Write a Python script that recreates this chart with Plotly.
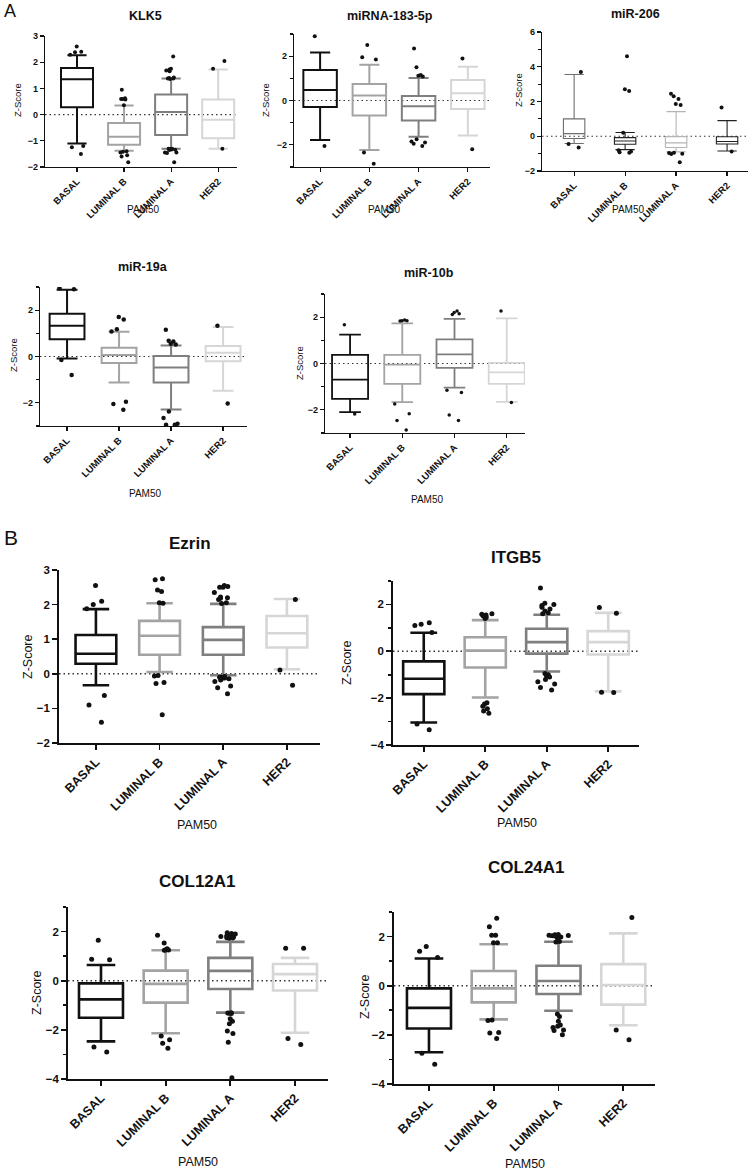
import plotly.graph_objects as go

W, H = 750, 1172
CATS = ["BASAL", "LUMINAL B", "LUMINAL A", "HER2"]
FONT = "Liberation Sans, Arial, sans-serif"

# ---------------- data (whisker hi, q3, median, q1, whisker lo, outliers) ----------------
klk5_hi  = [2.27, 0.35, 1.38, 1.72]
klk5_q3  = [1.78, -0.32, 0.77, 0.58]
klk5_med = [1.35, -0.85, 0.10, -0.20]
klk5_q1  = [0.28, -1.15, -0.78, -0.90]
klk5_lo  = [-1.10, -1.38, -1.30, -1.30]
klk5_out = [[2.60, 2.40, 2.38, 2.28, -1.20, -1.25, -1.50],
            [0.95, 0.62, 0.60, 0.60, 0.58, 0.36, -1.40, -1.42, -1.45, -1.55, -1.60, -1.82],
            [2.22, 1.75, 1.72, 1.68, 1.65, 1.42, 1.40, 1.38, 1.38, 1.36, -1.30, -1.30, -1.31,
             -1.32, -1.33, -1.34, -1.35, -1.45, -1.45, -1.47, -1.82],
            [2.05, 1.75, -1.30]]

mir183_hi  = [2.16, 1.61, 1.02, 1.52]
mir183_q3  = [1.38, 0.75, 0.20, 0.93]
mir183_med = [0.47, 0.23, -0.26, 0.33]
mir183_q1  = [-0.29, -0.68, -0.90, -0.38]
mir183_lo  = [-1.78, -2.23, -1.63, -1.58]
mir183_out = [[2.90, -2.05],
              [2.50, 1.95, 1.85, -2.35, -2.85],
              [2.35, 1.50, 1.15, 1.12, 1.08, -1.75, -1.85, -1.90, -1.95, -2.05],
              [1.90, -2.20]]

mir206_hi  = [3.55, 0.22, 1.42, 0.90]
mir206_q3  = [1.00, -0.08, -0.02, -0.03]
mir206_med = [0.15, -0.27, -0.38, -0.30]
mir206_q1  = [-0.13, -0.46, -0.65, -0.45]
mir206_lo  = [-0.42, -0.77, -0.90, -0.85]
mir206_out = [[3.70, -0.45, -0.65],
              [4.60, 2.70, 2.60, 0.20, -0.80, -0.88, -0.92, -0.95],
              [2.45, 2.30, 2.15, 1.85, 1.80, -0.95, -0.97, -1.00, -1.02, -1.50],
              [1.65, -0.88]]

mir19a_hi  = [2.88, 1.07, 0.48, 1.27]
mir19a_q3  = [1.84, 0.38, 0.02, 0.45]
mir19a_med = [1.33, 0.06, -0.48, 0.16]
mir19a_q1  = [0.74, -0.28, -1.12, -0.20]
mir19a_lo  = [-0.09, -1.12, -2.29, -1.48]
mir19a_out = [[2.95, 2.90, -0.15, -0.80],
              [1.70, 1.60, 1.18, 1.08, -1.95, -2.05, -2.30],
              [1.15, 0.68, 0.65, 0.55, 0.52, -2.37, -2.65, -2.90, -2.95, -2.95],
              [1.33, -2.03]]

mir10b_hi  = [1.25, 1.73, 1.93, 1.95]
mir10b_q3  = [0.37, 0.37, 1.04, 0.03]
mir10b_med = [-0.70, -0.05, 0.39, -0.38]
mir10b_q1  = [-1.53, -0.88, -0.19, -0.88]
mir10b_lo  = [-2.10, -1.67, -1.04, -1.66]
mir10b_out = [[1.67, -2.18],
              [1.88, 1.85, 1.85, 1.83, -1.75, -2.17, -2.46, -2.87],
              [2.27, 2.20, 2.15, 2.12, -1.15, -1.25, -2.22, -2.46],
              [2.27, -1.68]]

ezrin_hi  = [1.87, 2.04, 2.02, 2.16]
ezrin_q3  = [1.12, 1.53, 1.35, 1.67]
ezrin_med = [0.58, 1.10, 0.98, 1.17]
ezrin_q1  = [0.29, 0.55, 0.55, 0.76]
ezrin_lo  = [-0.33, 0.05, -0.04, 0.13]
ezrin_out = [[2.55, 2.10, 2.00, 1.88, -0.63, -0.90, -1.40],
             [2.75, 2.72, 2.42, 2.38, 2.05, 2.04, -0.05, -0.06, -0.25, -0.28, -1.18],
             [2.55, 2.52, 2.50, 2.50, 2.35, 2.22, 2.20, 2.18, 2.15, 2.05, 2.03, -0.08, -0.10,
              -0.10, -0.12, -0.12, -0.14, -0.18, -0.22, -0.35, -0.40, -0.58],
             [2.15, 0.11, -0.33]]

itgb5_hi  = [0.79, 1.33, 1.56, 1.64]
itgb5_q3  = [-0.43, 0.60, 0.96, 0.86]
itgb5_med = [-1.17, 0.03, 0.39, 0.39]
itgb5_q1  = [-1.83, -0.69, -0.10, -0.14]
itgb5_lo  = [-3.04, -1.97, -0.86, -1.71]
itgb5_out = [[1.22, 1.15, 1.10, 0.80, -3.10, -3.35],
             [1.60, 1.58, 1.55, 1.52, 1.50, 1.45, 1.40, -2.20, -2.25, -2.35, -2.45, -2.55, -2.65],
             [2.70, 2.05, 2.00, 1.95, 1.88, 1.80, 1.72, 1.65, 1.60, -0.95, -1.00, -1.05, -1.10,
              -1.20, -1.30, -1.40, -1.55, -1.65],
             [1.87, 1.62, -1.75, -1.76]]

col12_hi  = [0.64, 1.24, 1.58, 0.93]
col12_q3  = [-0.11, 0.41, 0.93, 0.68]
col12_med = [-0.76, -0.13, 0.40, 0.27]
col12_q1  = [-1.51, -0.89, -0.34, -0.40]
col12_lo  = [-2.47, -2.14, -1.30, -2.12]
col12_out = [[1.65, 0.87, 0.85, -2.70, -2.90],
             [1.85, 1.53, 1.30, 1.25, 1.25, 1.24, -2.25, -2.40, -2.55, -2.75],
             [1.95, 1.92, 1.90, 1.85, 1.82, 1.80, 1.78, 1.78, 1.76, 1.75, 1.74, 1.73, -1.30,
              -1.31, -1.32, -1.33, -1.55, -1.65, -1.75, -2.05, -2.15, -2.50, -3.95],
             [1.32, 1.32, -2.35, -2.60]]

col24_hi  = [1.11, 1.69, 1.79, 2.13]
col24_q3  = [-0.11, 0.60, 0.81, 0.88]
col24_med = [-0.90, -0.11, 0.19, 0.03]
col24_q1  = [-1.74, -0.68, -0.34, -0.77]
col24_lo  = [-2.71, -1.37, -1.02, -1.61]
col24_out = [[1.60, 1.40, 1.15, -2.75, -3.20],
             [2.75, 2.40, 2.05, 2.05, 1.75, 1.75, -1.40, -1.42, -1.90, -1.92, -2.15],
             [2.08, 2.07, 2.05, 2.05, 2.04, 2.03, 2.02, 1.98, 1.95, 1.80, 1.78, -1.15, -1.25,
              -1.45, -1.60, -1.65, -1.70, -1.80, -1.82, -2.00],
             [2.78, -1.80, -2.20]]

# ---------------- styles / layout ----------------
GREYS = ["#111111", "#a3a3a3", "#7f7f7f", "#d6d6d6"]
GREYS_206 = ["#6e6e6e", "#222222", "#b5b5b5", "#222222"]

PANELS = [
    dict(title="KLK5", stats=(klk5_hi, klk5_q3, klk5_med, klk5_q1, klk5_lo, klk5_out),
         px=(45, 237, 36, 167), yr=(-2, 3), dtick=1, minor=False, xr=(-0.68, 3.40),
         colors=GREYS, lw=2.0, ms=4, bw=0.68, ww=0.6, big=False,
         tpos=(145, 16), zpos=(17, 100), ppos=(143, 209)),
    dict(title="miRNA-183-5p", stats=(mir183_hi, mir183_q3, mir183_med, mir183_q1, mir183_lo, mir183_out),
         px=(294, 490, 34, 167), yr=(-3, 3), dtick=2, minor=True, xr=(-0.53, 3.45),
         colors=GREYS, lw=2.0, ms=4, bw=0.68, ww=0.6, big=False,
         tpos=(390, 16), zpos=(265, 100), ppos=(384, 209)),
    dict(title="miR-206", stats=(mir206_hi, mir206_q3, mir206_med, mir206_q1, mir206_lo, mir206_out),
         px=(542, 748, 32, 171), yr=(-2, 6), dtick=2, minor=True, xr=(-0.63, 3.41),
         colors=GREYS_206, lw=1.1, ms=4, bw=0.42, ww=0.9, big=False,
         tpos=(635, 14), zpos=(518, 90), ppos=(628, 209)),
    dict(title="miR-19a", stats=(mir19a_hi, mir19a_q3, mir19a_med, mir19a_q1, mir19a_lo, mir19a_out),
         px=(40, 247, 287, 426), yr=(-3, 3), dtick=2, minor=True, xr=(-0.52, 3.46),
         colors=GREYS, lw=2.0, ms=4.5, bw=0.67, ww=0.6, big=False,
         tpos=(143, 267), zpos=(13, 355), ppos=(145, 493)),
    dict(title="miR-10b", stats=(mir10b_hi, mir10b_q3, mir10b_med, mir10b_q1, mir10b_lo, mir10b_out),
         px=(325, 525, 294, 433), yr=(-3, 3), dtick=2, minor=True, xr=(-0.48, 3.35),
         colors=GREYS, lw=1.8, ms=3.5, bw=0.69, ww=0.6, big=False,
         tpos=(429, 273), zpos=(299, 363), ppos=(427, 499)),
    dict(title="Ezrin", stats=(ezrin_hi, ezrin_q3, ezrin_med, ezrin_q1, ezrin_lo, ezrin_out),
         px=(59, 320, 570, 743), yr=(-2, 3), dtick=1, minor=False, xr=(-0.58, 3.52),
         colors=GREYS, lw=2.6, ms=5, bw=0.64, ww=0.65, big=True,
         tpos=(190, 543), zpos=(28, 657), ppos=(197, 825)),
    dict(title="ITGB5", stats=(itgb5_hi, itgb5_q3, itgb5_med, itgb5_q1, itgb5_lo, itgb5_out),
         px=(393, 639, 581, 745), yr=(-4, 3), dtick=2, minor=True, xr=(-0.50, 3.50),
         colors=GREYS, lw=2.6, ms=5, bw=0.67, ww=0.65, big=True,
         tpos=(516, 557), zpos=(347, 663), ppos=(517, 823)),
    dict(title="COL12A1", stats=(col12_hi, col12_q3, col12_med, col12_q1, col12_lo, col12_out),
         px=(68, 328, 907, 1079), yr=(-4, 3), dtick=2, minor=True, xr=(-0.51, 3.51),
         colors=GREYS, lw=2.6, ms=5, bw=0.68, ww=0.65, big=True,
         tpos=(197, 881), zpos=(37, 993), ppos=(198, 1162)),
    dict(title="COL24A1", stats=(col24_hi, col24_q3, col24_med, col24_q1, col24_lo, col24_out),
         px=(394, 655, 912, 1084), yr=(-4, 3), dtick=2, minor=True, xr=(-0.54, 3.49),
         colors=GREYS, lw=2.6, ms=5, bw=0.68, ww=0.65, big=True,
         tpos=(526, 867), zpos=(365, 997), ppos=(525, 1164)),
]


def fx(px):
    return px / W


def fy(py):
    return 1 - py / H


fig = go.Figure()
layout = dict(template="none", width=W, height=H, autosize=False,
              margin=dict(l=0, r=0, t=0, b=0, pad=0, autoexpand=False),
              paper_bgcolor="white", plot_bgcolor="white", showlegend=False,
              boxmode="overlay", font=dict(family=FONT, color="#111"))
shapes = []
annotations = []

for i, p in enumerate(PANELS, start=1):
    xa = "x" if i == 1 else f"x{i}"
    ya = "y" if i == 1 else f"y{i}"
    xkey = "xaxis" if i == 1 else f"xaxis{i}"
    ykey = "yaxis" if i == 1 else f"yaxis{i}"
    L, R, T, B = p["px"]
    big = p["big"]
    axlw = 1.8 if big else 1.2
    tick_fs = 11.5 if big else 9
    cat_fs = 12.5 if big else 9.5
    hi, q3, med, q1, lo, out = p["stats"]

    for j, cat in enumerate(CATS):
        fig.add_trace(go.Box(
            x=[cat], q1=[q1[j]], median=[med[j]], q3=[q3[j]],
            lowerfence=[lo[j]], upperfence=[hi[j]],
            xaxis=xa, yaxis=ya, width=p["bw"], whiskerwidth=p["ww"],
            line=dict(color=p["colors"][j], width=p["lw"]),
            fillcolor="rgba(0,0,0,0)", boxpoints=False,
            hoverinfo="skip", showlegend=False))
        fig.add_trace(go.Box(
            x=[cat] * len(out[j]), y=out[j], xaxis=xa, yaxis=ya,
            boxpoints="all", jitter=0.9, pointpos=0, width=0.38, whiskerwidth=0,
            line=dict(color="rgba(0,0,0,0)", width=0), fillcolor="rgba(0,0,0,0)",
            marker=dict(color="#111111", size=p["ms"]),
            hoverinfo="skip", showlegend=False))

    layout[xkey] = dict(
        domain=[fx(L), fx(R)], anchor=ya, type="category", automargin=False,
        categoryorder="array", categoryarray=CATS, range=list(p["xr"]),
        showline=True, linecolor="#111", linewidth=axlw,
        ticks="outside", ticklen=4 if not big else 5, tickwidth=axlw, tickcolor="#111",
        tickangle=-45, tickfont=dict(family=FONT, size=cat_fs, color="#111", weight="bold"),
        showgrid=False, zeroline=False, fixedrange=True)
    yax = dict(
        domain=[fy(B), fy(T)], anchor=xa, range=list(p["yr"]), automargin=False,
        tickmode="linear", tick0=0, dtick=p["dtick"],
        showline=True, linecolor="#111", linewidth=axlw,
        ticks="outside", ticklen=4 if not big else 5, tickwidth=axlw, tickcolor="#111",
        tickfont=dict(family=FONT, size=tick_fs, color="#111", weight="bold"),
        showgrid=False, zeroline=False, fixedrange=True)
    if p["minor"]:
        yax["minor"] = dict(ticks="outside", dtick=1, tick0=0, ticklen=2.5 if not big else 3.5,
                            tickwidth=axlw, tickcolor="#111", showgrid=False)
    layout[ykey] = yax

    shapes.append(dict(type="line", xref=f"{xa} domain", yref=ya, x0=0, x1=1, y0=0, y1=0,
                       line=dict(color="#333", width=1.4 if big else 1.2, dash="1.5px,3px"),
                       layer="below"))

    annotations.append(dict(text=f"<b>{p['title']}</b>", x=fx(p["tpos"][0]), y=fy(p["tpos"][1]),
                            xref="paper", yref="paper", showarrow=False,
                            xanchor="center", yanchor="middle",
                            font=dict(family=FONT, size=17 if big else 12.5, color="#111")))
    annotations.append(dict(text="Z-Score", x=fx(p["zpos"][0]), y=fy(p["zpos"][1]),
                            xref="paper", yref="paper", showarrow=False, textangle=-90,
                            xanchor="center", yanchor="middle",
                            font=dict(family=FONT, size=12.5 if big else 9.5, color="#111")))
    annotations.append(dict(text="PAM50", x=fx(p["ppos"][0]), y=fy(p["ppos"][1]),
                            xref="paper", yref="paper", showarrow=False,
                            xanchor="center", yanchor="middle",
                            font=dict(family=FONT, size=12.5 if big else 10, color="#111")))

annotations.append(dict(text="A", x=fx(2), y=fy(11), xref="paper", yref="paper", showarrow=False,
                        xanchor="left", yanchor="middle",
                        font=dict(family=FONT, size=18, color="#111")))
annotations.append(dict(text="B", x=fx(2), y=fy(537), xref="paper", yref="paper", showarrow=False,
                        xanchor="left", yanchor="middle",
                        font=dict(family=FONT, size=21, color="#111")))

layout["shapes"] = shapes
layout["annotations"] = annotations
fig.update_layout(**layout)

fig.write_html("out.html",
               config={"displayModeBar": False, "staticPlot": True},
               post_script="document.body.style.margin='0';document.body.style.padding='0';"
                           "document.documentElement.style.overflow='hidden';")
